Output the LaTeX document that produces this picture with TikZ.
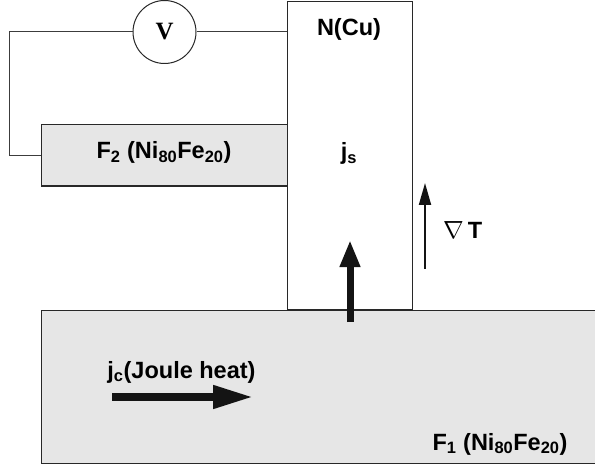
\documentclass[tikz,border=0pt]{standalone}
\usepackage{fontspec}
\setmainfont{Liberation Sans}
\newfontfamily\meterfont{Liberation Serif}
\usetikzlibrary{positioning,arrows.meta}
\definecolor{layergray}{RGB}{230,230,230}
\definecolor{edgegray}{RGB}{40,40,40}
\definecolor{wiregray}{RGB}{60,60,60}
\definecolor{arrowblack}{RGB}{20,20,20}
\tikzset{
  layer/.style ={rectangle, draw=edgegray, fill=layergray, line width=1.1bp,
                 inner sep=0pt, anchor=north west},
  metal/.style ={layer, fill=white},
  lbl/.style   ={font=\fontsize{23.6}{28}\selectfont\bfseries, inner sep=0pt, anchor=base},
  meter/.style ={circle, draw=edgegray, fill=white, line width=1bp, minimum size=63bp,
                 inner sep=0pt, font=\meterfont\fontsize{25}{30}\selectfont\bfseries},
  wire/.style  ={draw=wiregray, line width=1bp},
  bigflow/.style={-{Triangle[length=27bp,width=19bp]}, line width=7bp, draw=arrowblack},
  sideflow/.style={-{Triangle[length=40bp,width=22bp]}, line width=7.5bp, draw=arrowblack},
  grad/.style  ={-{Triangle[length=22bp,width=12bp]}, line width=2bp, draw=arrowblack},
}

\begin{document}
\begin{tikzpicture}[x=1bp,y=-1bp]
\clip (0,0) rectangle (595,466);
\fill[white] (0,0) rectangle (595,466);
% layers
\node[layer, minimum width=570bp, minimum height=153bp] (f1) at (40.7,310) {};
\node[metal, minimum width=124.4bp, minimum height=308bp] (n) at (287.3,1) {};
\node[layer, minimum width=246.6bp, minimum height=61.5bp] (f2) at (40.7,124) {};
% voltmeter and wires
\node[meter] (v) at (164.5,32) {V};
\coordinate (corner) at (9.5,32);
\draw[wire] (v.west) -- (corner) |- (f2.west);
\draw[wire] (v.east) -- (v.east -| n.west);
% labels
\node[lbl] (ncu) at (349,36) {N(Cu)};
\node[lbl] (js) at (349,160) {j\textsubscript{s}};
\node[lbl] (f2lbl) at (164,159) {F\textsubscript{2} (Ni\textsubscript{80}Fe\textsubscript{20})};
\node[lbl] (jc) at (181.5,378) {j\textsubscript{c}(Joule heat)};
\node[lbl] (f1lbl) at (500,450) {F\textsubscript{1} (Ni\textsubscript{80}Fe\textsubscript{20})};
\node[lbl, anchor=base west] (gradT) at (443,239) {$\nabla$\,T};
% flows
\coordinate (jsfoot) at (350,322);
\coordinate (jstip) at (350,240);
\draw[bigflow] (jsfoot) -- (jstip);
\coordinate (jcfoot) at (112,397);
\coordinate (jctip) at (253,397);
\draw[sideflow] (jcfoot) -- (jctip);
\coordinate (gradfoot) at (425,269);
\coordinate (gradtip) at (425,183);
\draw[grad] (gradfoot) -- (gradtip);
\end{tikzpicture}
\end{document}
